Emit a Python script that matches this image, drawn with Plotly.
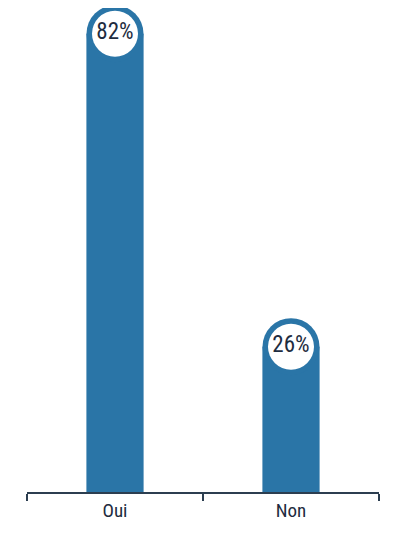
import plotly.graph_objects as go

categories = ['Oui', 'Non']
values = [82, 26]
labels = ['82%', '26%']

bar_color = '#2a75a7'
ink = '#1e2c40'
narrow = 'Roboto Condensed, DejaVu Sans Condensed, sans-serif'

fig = go.Figure()

fig.add_trace(go.Bar(
    x=categories, y=values, width=0.325,
    marker=dict(color=bar_color, line=dict(width=0)),
    hoverinfo='skip'
))

# badge: blue ring then white disc with the value
fig.add_trace(go.Scatter(
    x=categories, y=values, mode='markers',
    marker=dict(size=57, color=bar_color, line=dict(width=0)),
    cliponaxis=False, hoverinfo='skip'
))
fig.add_trace(go.Scatter(
    x=categories, y=values, mode='markers+text',
    marker=dict(size=46, color='white', line=dict(width=0)),
    text=labels, textposition='middle center',
    textfont=dict(family=narrow, size=23, color=ink),
    cliponaxis=False, hoverinfo='skip'
))

# page body adds 8px, margins compensate
fig.update_layout(
    width=400, height=543,
    margin=dict(l=19, r=29, t=0, b=59),
    paper_bgcolor='white', plot_bgcolor='white',
    showlegend=False,
    xaxis=dict(
        range=[-0.5, 1.5], showgrid=False, zeroline=False,
        showline=True, linecolor='#2c3e50', linewidth=2,
        ticks='outside', tickson='boundaries', ticklen=7,
        tickcolor='#2c3e50', tickwidth=2,
        tickfont=dict(family=narrow, size=19, color=ink),
    ),
    yaxis=dict(range=[0, 86.6], visible=False),
)

fig.write_html("out.html")
